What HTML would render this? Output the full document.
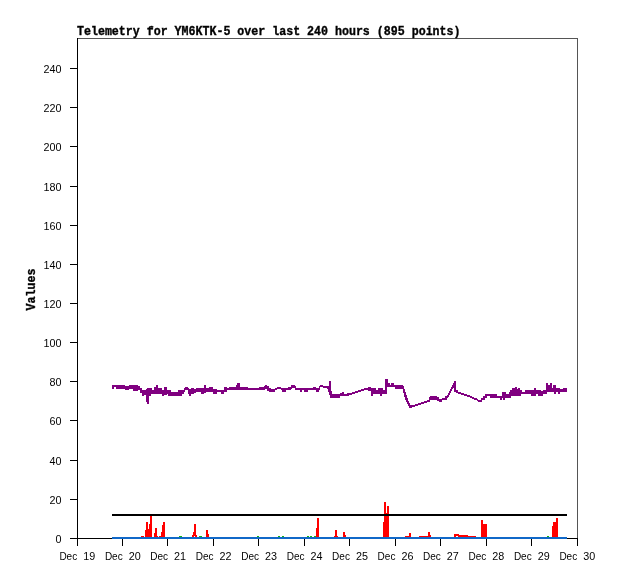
<!DOCTYPE html>
<html><head><meta charset="utf-8"><title>Telemetry</title>
<style>html,body{margin:0;padding:0;background:#fff}svg{display:block}text{font-family:"Liberation Sans",sans-serif;fill:#000}.m{font-family:"Liberation Mono",monospace;font-weight:bold;stroke:#000;stroke-width:0.35px}</style></head><body>
<svg width="618" height="579" viewBox="0 0 618 579">
<rect width="618" height="579" fill="#fff"/>
<g shape-rendering="crispEdges">
<rect x="141" y="536" width="3" height="2" fill="#ff0000"/>
<rect x="145" y="530" width="1" height="8" fill="#ff0000"/>
<rect x="146" y="522" width="2" height="16" fill="#ff0000"/>
<rect x="148" y="529" width="1" height="9" fill="#ff0000"/>
<rect x="149" y="524" width="1" height="14" fill="#ff0000"/>
<rect x="150" y="516" width="2" height="22" fill="#ff0000"/>
<rect x="154" y="533" width="1" height="5" fill="#ff0000"/>
<rect x="155" y="528" width="2" height="10" fill="#ff0000"/>
<rect x="157" y="536" width="1" height="2" fill="#ff0000"/>
<rect x="159" y="536" width="2" height="2" fill="#ff0000"/>
<rect x="161" y="532" width="1" height="6" fill="#ff0000"/>
<rect x="162" y="525" width="1" height="13" fill="#ff0000"/>
<rect x="163" y="522" width="2" height="16" fill="#ff0000"/>
<rect x="192" y="535" width="1" height="3" fill="#ff0000"/>
<rect x="193" y="532" width="1" height="6" fill="#ff0000"/>
<rect x="194" y="524" width="2" height="14" fill="#ff0000"/>
<rect x="196" y="535" width="1" height="3" fill="#ff0000"/>
<rect x="206" y="530" width="2" height="8" fill="#ff0000"/>
<rect x="208" y="534" width="1" height="4" fill="#ff0000"/>
<rect x="316" y="528" width="1" height="10" fill="#ff0000"/>
<rect x="317" y="518" width="2" height="20" fill="#ff0000"/>
<rect x="334" y="536" width="1" height="2" fill="#ff0000"/>
<rect x="335" y="530" width="2" height="8" fill="#ff0000"/>
<rect x="337" y="536" width="1" height="2" fill="#ff0000"/>
<rect x="343" y="532" width="2" height="6" fill="#ff0000"/>
<rect x="345" y="535" width="1" height="3" fill="#ff0000"/>
<rect x="383" y="522" width="1" height="16" fill="#ff0000"/>
<rect x="384" y="502" width="2" height="36" fill="#ff0000"/>
<rect x="386" y="513" width="1" height="25" fill="#ff0000"/>
<rect x="387" y="506" width="2" height="32" fill="#ff0000"/>
<rect x="405" y="536" width="4" height="2" fill="#ff0000"/>
<rect x="409" y="533" width="2" height="5" fill="#ff0000"/>
<rect x="419" y="536" width="9" height="2" fill="#ff0000"/>
<rect x="428" y="532" width="2" height="6" fill="#ff0000"/>
<rect x="430" y="535" width="1" height="3" fill="#ff0000"/>
<rect x="454" y="534" width="5" height="4" fill="#ff0000"/>
<rect x="459" y="535" width="9" height="3" fill="#ff0000"/>
<rect x="468" y="536" width="8" height="2" fill="#ff0000"/>
<rect x="481" y="520" width="2" height="18" fill="#ff0000"/>
<rect x="483" y="524" width="4" height="14" fill="#ff0000"/>
<rect x="552" y="526" width="1" height="12" fill="#ff0000"/>
<rect x="553" y="522" width="3" height="16" fill="#ff0000"/>
<rect x="556" y="518" width="2" height="20" fill="#ff0000"/>
<rect x="456" y="536" width="2" height="1" fill="#fff"/>
<rect x="194" y="536" width="1" height="1" fill="#fff"/>
<rect x="179" y="536" width="3" height="1" fill="#14b414"/>
<rect x="199" y="536" width="3" height="1" fill="#14b414"/>
<rect x="257" y="536" width="2" height="1" fill="#14b414"/>
<rect x="278" y="536" width="2" height="1" fill="#14b414"/>
<rect x="282" y="536" width="2" height="1" fill="#14b414"/>
<rect x="307" y="536" width="2" height="1" fill="#14b414"/>
<rect x="310" y="536" width="2" height="1" fill="#14b414"/>
<rect x="314" y="536" width="2" height="1" fill="#14b414"/>
<rect x="547" y="536" width="2" height="1" fill="#14b414"/>
<rect x="77" y="38" width="501" height="1" fill="#555"/>
<rect x="577" y="38" width="1" height="501" fill="#555"/>
<rect x="77" y="538" width="501" height="1" fill="#000"/>
<rect x="77" y="38" width="1" height="501" fill="#000"/>
<rect x="70" y="538" width="8" height="1" fill="#000"/>
<rect x="70" y="499" width="8" height="1" fill="#000"/>
<rect x="70" y="460" width="8" height="1" fill="#000"/>
<rect x="70" y="420" width="8" height="1" fill="#000"/>
<rect x="70" y="381" width="8" height="1" fill="#000"/>
<rect x="70" y="342" width="8" height="1" fill="#000"/>
<rect x="70" y="303" width="8" height="1" fill="#000"/>
<rect x="70" y="264" width="8" height="1" fill="#000"/>
<rect x="70" y="225" width="8" height="1" fill="#000"/>
<rect x="70" y="186" width="8" height="1" fill="#000"/>
<rect x="70" y="146" width="8" height="1" fill="#000"/>
<rect x="70" y="107" width="8" height="1" fill="#000"/>
<rect x="70" y="68" width="8" height="1" fill="#000"/>
<rect x="77" y="538" width="1" height="8" fill="#000"/>
<rect x="122" y="538" width="1" height="8" fill="#000"/>
<rect x="167" y="538" width="1" height="8" fill="#000"/>
<rect x="213" y="538" width="1" height="8" fill="#000"/>
<rect x="258" y="538" width="1" height="8" fill="#000"/>
<rect x="304" y="538" width="1" height="8" fill="#000"/>
<rect x="349" y="538" width="1" height="8" fill="#000"/>
<rect x="395" y="538" width="1" height="8" fill="#000"/>
<rect x="440" y="538" width="1" height="8" fill="#000"/>
<rect x="486" y="538" width="1" height="8" fill="#000"/>
<rect x="531" y="538" width="1" height="8" fill="#000"/>
<rect x="577" y="538" width="1" height="8" fill="#000"/>
<rect x="112" y="514" width="455" height="2" fill="#000"/>
<rect x="112" y="537" width="455" height="2" fill="#1068c8"/>
<path d="M112 385h2v4h-2zM114 385h2v2h-2zM116 385h9v4h-9zM125 386h4v4h-4zM129 385h4v4h-4zM133 385h5v6h-5zM138 386h2v4h-2zM140 388h2v5h-2zM142 390h2v6h-2zM144 390h2v5h-2zM146 389h1v13h-1zM147 388h2v16h-2zM149 388h2v8h-2zM151 388h1v6h-1zM152 390h2v4h-2zM154 387h2v7h-2zM156 385h2v9h-2zM158 388h4v6h-4zM162 390h2v6h-2zM164 387h3v8h-3zM167 390h1v4h-1zM168 390h3v6h-3zM171 392h7v4h-7zM178 390h4v6h-4zM182 390h2v4h-2zM184 388h1v4h-1zM185 387h3v3h-3zM188 388h1v6h-1zM189 389h2v7h-2zM191 388h3v6h-3zM194 389h2v4h-2zM196 388h5v4h-5zM201 388h3v6h-3zM204 385h2v8h-2zM206 388h3v4h-3zM209 387h4v5h-4zM213 389h4v5h-4zM217 390h4v2h-4zM221 390h3v4h-3zM224 387h3v5h-3zM227 388h2v2h-2zM229 387h7v3h-7zM236 385h1v5h-1zM237 383h3v7h-3zM240 387h8v3h-8zM248 388h11v2h-11zM259 387h5v3h-5zM264 386h1v4h-1zM265 385h2v4h-2zM267 386h2v5h-2zM269 388h2v4h-2zM271 389h4v3h-4zM275 388h2v2h-2zM277 387h4v2h-4zM281 388h1v2h-1zM282 388h4v4h-4zM286 388h2v2h-2zM288 387h3v3h-3zM291 385h1v4h-1zM292 385h3v3h-3zM295 386h1v4h-1zM296 388h4v2h-4zM300 388h2v4h-2zM302 388h2v2h-2zM304 388h4v4h-4zM308 388h5v2h-5zM313 387h3v3h-3zM316 388h3v4h-3zM319 386h1v4h-1zM320 385h3v2h-3zM323 386h4v2h-4zM327 386h1v3h-1zM328 386h1v6h-1zM329 381h1v14h-1zM330 381h1v17h-1zM331 391h1v7h-1zM332 394h8v4h-8zM340 393h2v3h-2zM342 392h2v4h-2zM344 394h3v2h-3zM347 393h2v3h-2zM349 393h3v2h-3zM352 392h3v2h-3zM355 391h3v2h-3zM358 390h3v2h-3zM361 389h3v2h-3zM364 388h4v2h-4zM368 387h3v4h-3zM371 388h2v8h-2zM373 388h3v6h-3zM376 390h2v4h-2zM378 388h2v6h-2zM380 388h2v8h-2zM382 388h1v6h-1zM383 390h2v4h-2zM385 379h2v15h-2zM387 379h1v8h-1zM388 383h2v4h-2zM390 385h1v2h-1zM391 383h3v4h-3zM394 385h1v2h-1zM395 385h8v4h-8zM403 386h1v7h-1zM404 389h1v8h-1zM405 392h1v8h-1zM406 395h1v7h-1zM407 398h1v6h-1zM408 401h1v5h-1zM409 403h1v5h-1zM410 405h2v3h-2zM412 405h3v2h-3zM415 404h3v2h-3zM418 403h3v2h-3zM421 402h3v2h-3zM424 401h3v2h-3zM427 400h2v2h-2zM429 397h1v5h-1zM430 396h7v4h-7zM437 397h2v4h-2zM439 399h3v3h-3zM442 398h3v2h-3zM445 396h2v4h-2zM447 395h1v3h-1zM448 393h1v4h-1zM449 391h1v4h-1zM450 389h1v4h-1zM451 387h1v4h-1zM452 385h1v4h-1zM453 383h1v5h-1zM454 381h2v11h-2zM456 390h2v3h-2zM458 392h3v2h-3zM461 393h3v2h-3zM464 394h3v2h-3zM467 395h3v2h-3zM470 396h2v2h-2zM472 397h2v2h-2zM474 398h3v2h-3zM477 399h1v2h-1zM478 400h3v2h-3zM481 398h1v4h-1zM482 398h1v2h-1zM483 396h2v4h-2zM485 394h2v4h-2zM487 394h3v2h-3zM490 394h7v4h-7zM497 396h3v2h-3zM500 396h2v4h-2zM502 392h1v6h-1zM503 392h2v8h-2zM505 392h1v6h-1zM506 394h3v4h-3zM509 392h1v6h-1zM510 390h1v8h-1zM511 390h1v6h-1zM512 388h3v8h-3zM515 387h2v9h-2zM517 389h1v7h-1zM518 388h2v8h-2zM520 390h1v6h-1zM521 390h1v4h-1zM522 392h3v2h-3zM525 390h6v4h-6zM531 390h3v6h-3zM534 388h2v8h-2zM536 390h2v4h-2zM538 390h3v6h-3zM541 391h2v5h-2zM543 390h3v4h-3zM546 383h1v11h-1zM547 383h1v9h-1zM548 385h2v7h-2zM550 383h2v9h-2zM552 388h1v4h-1zM553 385h1v7h-1zM554 385h2v9h-2zM556 388h2v4h-2zM558 388h2v6h-2zM560 389h3v3h-3zM563 388h4v4h-4z" fill="#800080"/>
</g>
<g opacity="0.999">
<text class="m" x="77" y="35" font-size="12.2" textLength="383.5" lengthAdjust="spacingAndGlyphs">Telemetry for YM6KTK-5 over last 240 hours (895 points)</text>
<text class="m" transform="translate(35,310.5) rotate(-90)" font-size="12.2" textLength="42" lengthAdjust="spacingAndGlyphs">Values</text>
<text x="55.5" y="543" font-size="11" textLength="6" lengthAdjust="spacingAndGlyphs">0</text>
<text x="49.5" y="504" font-size="11" textLength="12" lengthAdjust="spacingAndGlyphs">20</text>
<text x="49.5" y="465" font-size="11" textLength="12" lengthAdjust="spacingAndGlyphs">40</text>
<text x="49.5" y="425" font-size="11" textLength="12" lengthAdjust="spacingAndGlyphs">60</text>
<text x="49.5" y="386" font-size="11" textLength="12" lengthAdjust="spacingAndGlyphs">80</text>
<text x="43.5" y="347" font-size="11" textLength="18" lengthAdjust="spacingAndGlyphs">100</text>
<text x="43.5" y="308" font-size="11" textLength="18" lengthAdjust="spacingAndGlyphs">120</text>
<text x="43.5" y="269" font-size="11" textLength="18" lengthAdjust="spacingAndGlyphs">140</text>
<text x="43.5" y="230" font-size="11" textLength="18" lengthAdjust="spacingAndGlyphs">160</text>
<text x="43.5" y="191" font-size="11" textLength="18" lengthAdjust="spacingAndGlyphs">180</text>
<text x="43.5" y="151" font-size="11" textLength="18" lengthAdjust="spacingAndGlyphs">200</text>
<text x="43.5" y="112" font-size="11" textLength="18" lengthAdjust="spacingAndGlyphs">220</text>
<text x="43.5" y="73" font-size="11" textLength="18" lengthAdjust="spacingAndGlyphs">240</text>
<text x="59.4" y="560" font-size="11" textLength="17.8" lengthAdjust="spacingAndGlyphs">Dec</text>
<text x="83.2" y="560" font-size="11" textLength="12" lengthAdjust="spacingAndGlyphs">19</text>
<text x="104.9" y="560" font-size="11" textLength="17.8" lengthAdjust="spacingAndGlyphs">Dec</text>
<text x="128.7" y="560" font-size="11" textLength="12" lengthAdjust="spacingAndGlyphs">20</text>
<text x="150.3" y="560" font-size="11" textLength="17.8" lengthAdjust="spacingAndGlyphs">Dec</text>
<text x="174.1" y="560" font-size="11" textLength="12" lengthAdjust="spacingAndGlyphs">21</text>
<text x="195.8" y="560" font-size="11" textLength="17.8" lengthAdjust="spacingAndGlyphs">Dec</text>
<text x="219.6" y="560" font-size="11" textLength="12" lengthAdjust="spacingAndGlyphs">22</text>
<text x="241.2" y="560" font-size="11" textLength="17.8" lengthAdjust="spacingAndGlyphs">Dec</text>
<text x="265.0" y="560" font-size="11" textLength="12" lengthAdjust="spacingAndGlyphs">23</text>
<text x="286.7" y="560" font-size="11" textLength="17.8" lengthAdjust="spacingAndGlyphs">Dec</text>
<text x="310.5" y="560" font-size="11" textLength="12" lengthAdjust="spacingAndGlyphs">24</text>
<text x="332.1" y="560" font-size="11" textLength="17.8" lengthAdjust="spacingAndGlyphs">Dec</text>
<text x="355.9" y="560" font-size="11" textLength="12" lengthAdjust="spacingAndGlyphs">25</text>
<text x="377.6" y="560" font-size="11" textLength="17.8" lengthAdjust="spacingAndGlyphs">Dec</text>
<text x="401.4" y="560" font-size="11" textLength="12" lengthAdjust="spacingAndGlyphs">26</text>
<text x="423.0" y="560" font-size="11" textLength="17.8" lengthAdjust="spacingAndGlyphs">Dec</text>
<text x="446.8" y="560" font-size="11" textLength="12" lengthAdjust="spacingAndGlyphs">27</text>
<text x="468.5" y="560" font-size="11" textLength="17.8" lengthAdjust="spacingAndGlyphs">Dec</text>
<text x="492.3" y="560" font-size="11" textLength="12" lengthAdjust="spacingAndGlyphs">28</text>
<text x="513.9" y="560" font-size="11" textLength="17.8" lengthAdjust="spacingAndGlyphs">Dec</text>
<text x="537.7" y="560" font-size="11" textLength="12" lengthAdjust="spacingAndGlyphs">29</text>
<text x="559.4" y="560" font-size="11" textLength="17.8" lengthAdjust="spacingAndGlyphs">Dec</text>
<text x="583.2" y="560" font-size="11" textLength="12" lengthAdjust="spacingAndGlyphs">30</text>
</g>
</svg></body></html>
